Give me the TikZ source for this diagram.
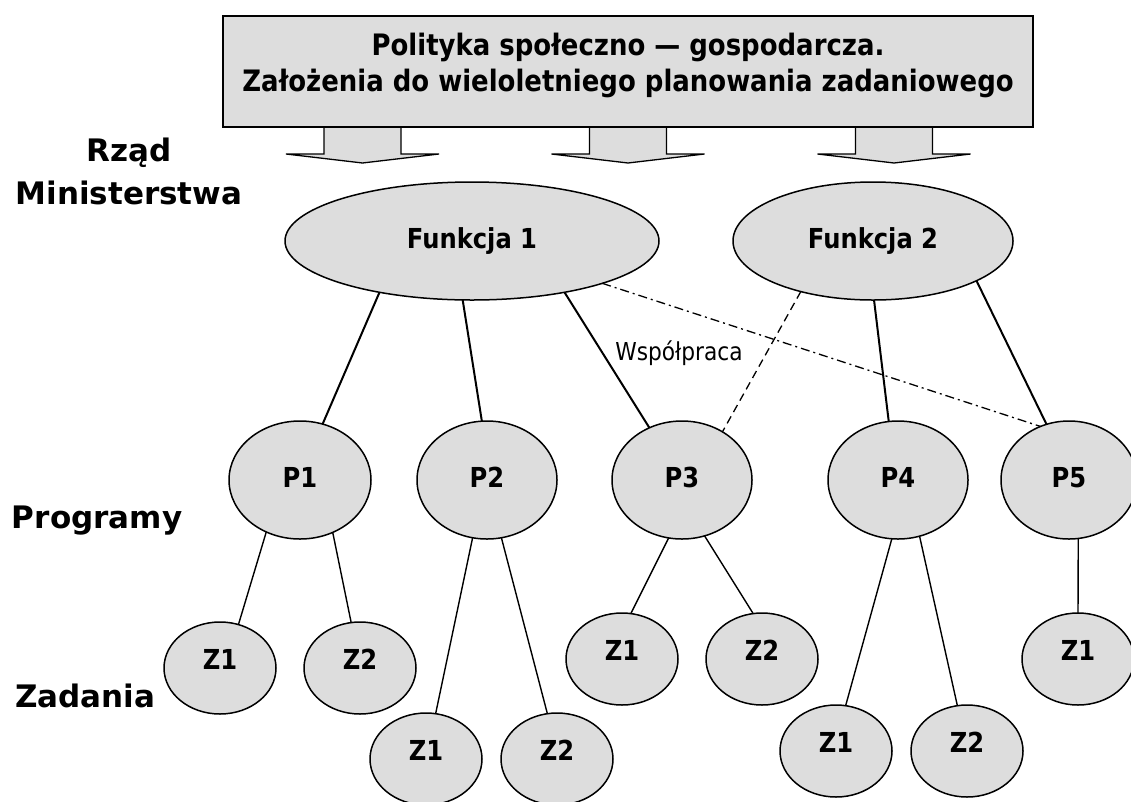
\documentclass[tikz,border=0pt]{standalone}
\usepackage{fontspec}
\setmainfont{DejaVu Sans}
\newfontfamily\tah[FakeStretch=0.88]{DejaVu Sans}
\newfontfamily\verd{DejaVu Sans}
\usetikzlibrary{shapes.geometric}
\definecolor{boxgray}{HTML}{DDDDDD}
\begin{document}
\begin{tikzpicture}[x=1pt,y=-1pt,
  every node/.style={inner sep=0pt,outer sep=0pt},
  ell/.style={ellipse,draw=black,line width=1.5pt,fill=boxgray,
    font=\tah\bfseries\fontsize{27.5}{30}\selectfont,text height=20pt,text depth=6pt},
  fnode/.style={ell,minimum width=374pt,minimum height=118pt},
  pnode/.style={ell,minimum width=140pt,minimum height=118pt},
  znode/.style={ell,minimum width=112pt,minimum height=92pt,text depth=17pt},
  side/.style={font=\verd\bfseries\fontsize{31}{36}\selectfont,anchor=base},
  upline/.style={line width=2pt},
  lowline/.style={line width=1.4pt},
  blockarrow/.style={draw=black,line width=1.3pt,fill=boxgray,line join=miter}
]
\useasboundingbox (0,0) rectangle (1131,801);

% block arrows
\foreach \cx in {362.5,628,894}{
  \draw[blockarrow] (\cx-38.5,127) -- (\cx-38.5,154) -- (\cx-76.5,154) -- (\cx,163)
     -- (\cx+76.5,154) -- (\cx+38.5,154) -- (\cx+38.5,127);
}
% top box
\node[draw=black,line width=1.5pt,fill=boxgray,minimum width=810pt,minimum height=111pt]
  (top) at (628,71.5) {};
\node[font=\tah\bfseries\fontsize{29.5}{34}\selectfont,anchor=base] (t1) at (628,55)
  {Polityka społeczno — gospodarcza.};
\node[font=\tah\bfseries\fontsize{29.5}{34}\selectfont,anchor=base] (t2) at (628,91)
  {Założenia do wieloletniego planowania zadaniowego};

% side labels
\node[side] (rzad) at (129.5,161) {Rząd};
\node[side] (min) at (129,204) {Ministerstwa};
\node[side,anchor=base west] (prog) at (12,528) {Programy};
\node[side,anchor=base west] (zad) at (15,707) {Zadania};

% functions
\node[fnode] (F1) at (472,241) {Funkcja 1};
\node[fnode,minimum width=280pt] (F2) at (873,241) {Funkcja 2};

% programs
\node[pnode,minimum width=142pt] (P1) at (300,480) {P1};
\node[pnode] (P2) at (487,480) {P2};
\node[pnode] (P3) at (682,480) {P3};
\node[pnode] (P4) at (898,480) {P4};
\node[pnode,minimum width=136pt] (P5) at (1069,480) {P5};

% tasks
\node[znode] (Z11) at (220,668) {Z1};
\node[znode] (Z12) at (360,668) {Z2};
\node[znode] (Z21) at (426,759) {Z1};
\node[znode] (Z22) at (557,759) {Z2};
\node[znode] (Z31) at (622,659) {Z1};
\node[znode] (Z32) at (762,659) {Z2};
\node[znode] (Z41) at (836,751) {Z1};
\node[znode] (Z42) at (967,751) {Z2};
\node[znode] (Z51) at (1078,659) {Z1};

% upper connectors
\draw[upline] (F1.209.5) -- (P1.68);
\draw[upline] (F1.261) -- (P2.95);
\draw[upline] (F1.331) -- (P3.122);
\draw[upline] (F2.271) -- (P4.99.6);
\draw[upline] (F2.339.6) -- (P5.112);
\draw[line width=1.3pt,dash pattern=on 9pt off 4pt on 2pt off 4pt] (F1.342.5) -- (P5.118);
\draw[line width=1.3pt,dash pattern=on 8pt off 5pt] (F2.215) -- (P3.50);
\node[font=\tah\fontsize{24.7}{28}\selectfont,anchor=base] (wsp) at (679,360) {Współpraca};

% lower connectors
\draw[lowline] (P1.237) -- (Z11.67.5);
\draw[lowline] (P1.302) -- (Z12.101);
\draw[lowline] (P2.256) -- (Z21.78);
\draw[lowline] (P2.284) -- (Z22.102);
\draw[lowline] (P3.257) -- (Z31.79);
\draw[lowline] (P3.292) -- (Z32.101);
\draw[lowline] (P4.264) -- (Z41.78);
\draw[lowline] (P4.291) -- (Z42.102);
\draw[lowline] (P5.279) -- (Z51.90);
\end{tikzpicture}
\end{document}
